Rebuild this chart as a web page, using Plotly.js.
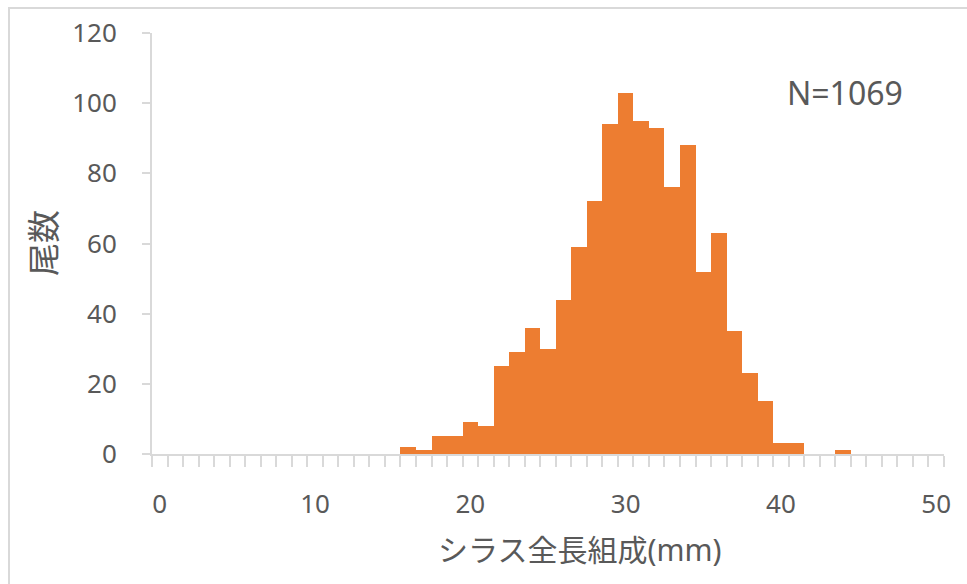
<!DOCTYPE html>
<html>
<head>
<meta charset="utf-8">
<script src="https://cdn.plot.ly/plotly-3.0.1.min.js"></script>
<style>
html,body{margin:0;padding:0;background:#fff;}
#wrap{position:relative;width:967px;height:584px;overflow:hidden;}
#chart{width:967px;height:584px;}
#frame{position:absolute;left:8px;top:7px;width:1000px;height:700px;border-left:2px solid #d9d9d9;border-top:2px solid #d9d9d9;pointer-events:none;}
</style>
</head>
<body>
<div id="wrap"><div id="chart"></div><div id="frame"></div></div>
<script>
// 全長 (mm) categories
const lengths = [0,1,2,3,4,5,6,7,8,9,10,11,12,13,14,15,16,17,18,19,20,21,22,23,24,25,26,27,28,29,30,31,32,33,34,35,36,37,38,39,40,41,42,43,44,45,46,47,48,49,50];
// 尾数 per category
const counts = [0,0,0,0,0,0,0,0,0,0,0,0,0,0,0,0,2,1,5,5,9,8,25,29,36,30,44,59,72,94,103,95,93,76,88,52,63,35,23,15,3,3,0,0,1,0,0,0,0,0,0];
const xTickVals = [0,10,20,30,40,50];
const xTickText = ['0','10','20','30','40','50'];
const yTickVals = [0,20,40,60,80,100,120];
const xTitle = 'シラス全長組成(mm)';
const yTitle = '尾数';
const nLabel = 'N=1069';

const font = 'Noto Sans, Noto Sans CJK JP, sans-serif';
const grey = '#595959';
const axisGrey = '#d9d9d9';

const trace = {
  type: 'bar',
  x: lengths,
  y: counts,
  marker: {color: '#ED7D31', line: {width: 0}},
  hoverinfo: 'x+y'
};

const layout = {
  width: 967, height: 584,
  margin: {l: 152, r: 23, t: 33, b: 130, pad: 0},
  paper_bgcolor: '#ffffff', plot_bgcolor: '#ffffff',
  bargap: 0,
  showlegend: false,
  font: {family: font, color: grey, size: 26},
  xaxis: {
    range: [-0.5, 50.5],
    tickmode: 'array', tickvals: xTickVals, ticktext: xTickText,
    ticks: '', showgrid: false, zeroline: false,
    showline: true, linecolor: axisGrey, linewidth: 2,
    tickfont: {family: font, size: 26, color: grey},
    ticklabelstandoff: 26,
    minor: {tickmode: 'linear', tick0: -0.5, dtick: 1, ticks: 'outside', ticklen: 11, tickwidth: 2, tickcolor: axisGrey, showgrid: false}
  },
  yaxis: {
    range: [0, 120],
    tickmode: 'array', tickvals: yTickVals,
    ticks: 'outside', ticklen: 8, tickwidth: 2, tickcolor: axisGrey,
    showgrid: false, zeroline: false,
    showline: true, linecolor: axisGrey, linewidth: 2,
    tickfont: {family: font, size: 26, color: grey},
    ticklabelstandoff: 20
  },
  annotations: [
    {text: nLabel, xref: 'paper', yref: 'paper', x: 0.875, y: 0.8575, xanchor: 'center', yanchor: 'middle', showarrow: false, font: {family: font, size: 32, color: grey}},
    {text: xTitle, xref: 'paper', yref: 'paper', x: 0.540, y: -0.2257, xanchor: 'center', yanchor: 'middle', showarrow: false, font: {family: font, size: 30, color: grey}},
    {text: yTitle, xref: 'paper', yref: 'paper', x: -0.1376, y: 0.501, xanchor: 'center', yanchor: 'middle', textangle: -90, showarrow: false, font: {family: font, size: 33, color: grey}}
  ]
};

Plotly.newPlot('chart', [trace], layout, {displayModeBar: false, staticPlot: true});
</script>
</body>
</html>
